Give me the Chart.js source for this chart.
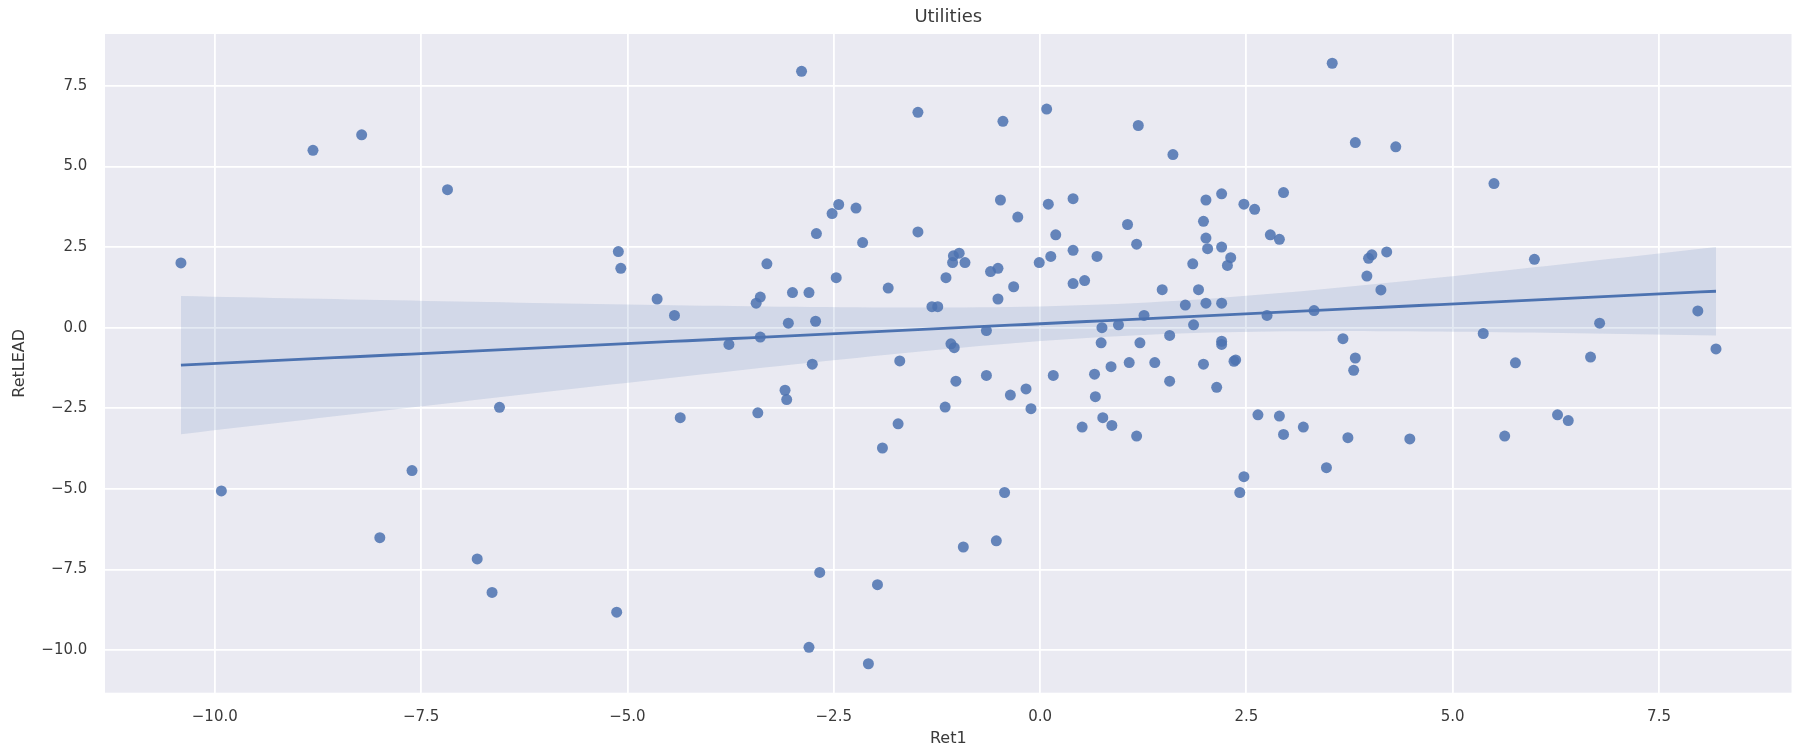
<!DOCTYPE html>
<html>
<head>
<meta charset="utf-8">
<title>Utilities</title>
<script src="https://cdn.jsdelivr.net/npm/chart.js@4/dist/chart.umd.min.js"></script>
<style>
  html, body { margin: 0; padding: 0; background: #ffffff; }
  #wrap { width: 1797px; height: 752px; }
</style>
</head>
<body>
<div id="wrap"><canvas id="chart" width="1797" height="752"></canvas></div>
<script>
// Daily return of the sector (Ret1) against the next-period return (RetLEAD)
const ret1 = [
  -10.41, -8.81, -8.22, -7.18, -2.89, -2.44, -2.52, -2.23, -2.71, -2.15,
  -5.11, -5.08, -3.31, -2.47, -1.84, -4.64, -4.43, -3.39, -3.44, -3.00,
  -2.80, -3.05, -2.72, -3.39, -3.77, -2.76, -1.70, 3.54, -1.48, -0.45,
  0.08, 1.19, 1.61, -0.48, 0.10, 0.40, -0.27, -1.48, 0.19, 1.06,
  1.17, 2.01, 2.20, 2.47, 2.60, 2.95, 1.98, 2.01, 2.03, 2.20,
  2.31, 2.27, 2.79, 2.90, 1.85, 1.92, 1.48, 1.76, 2.01, 2.20,
  2.75, 3.32, 1.86, 1.26, 0.95, 0.75, 1.57, 0.74, 1.21, 2.20,
  2.20, 2.37, 2.35, -1.31, -1.24, -1.14, -1.05, -0.98, -1.06, -0.91,
  -0.60, -0.51, -0.32, -0.51, -0.01, 0.13, 0.40, 0.69, 0.40, 0.54,
  -0.65, -1.08, -1.04, 0.86, 1.08, 1.39, 1.98, 0.66, -1.02, -0.65,
  0.16, 1.57, 2.14, -1.15, -1.72, -1.91, -0.36, -0.17, -0.11, 0.67,
  0.51, 0.76, 0.87, 1.17, 2.64, 2.90, 2.95, 3.19, 3.47, 2.47,
  2.42, -0.43, -0.93, -0.53, -6.55, -4.36, -3.42, -3.09, -3.07, -6.82,
  -6.64, -5.13, -2.67, -1.97, -2.80, -2.08, -9.92, -7.61, -8.00, 3.82,
  4.31, 5.50, 4.02, 3.98, 4.20, 3.96, 4.13, 5.99, 7.97, 6.78,
  5.37, 8.19, 3.67, 3.82, 3.80, 5.76, 6.67, 3.73, 4.48, 5.63,
  6.27, 6.40
];
const retLead = [
  2.01, 5.50, 5.98, 4.28, 7.95, 3.82, 3.54, 3.71, 2.92, 2.64,
  2.36, 1.84, 1.98, 1.55, 1.23, 0.89, 0.38, 0.95, 0.76, 1.09,
  1.09, 0.14, 0.20, -0.29, -0.52, -1.13, -1.03, 8.20, 6.68, 6.40,
  6.78, 6.27, 5.37, 3.96, 3.83, 4.00, 3.43, 2.97, 2.88, 3.20,
  2.59, 3.96, 4.15, 3.83, 3.67, 4.19, 3.30, 2.78, 2.45, 2.50,
  2.17, 1.93, 2.88, 2.74, 1.98, 1.18, 1.18, 0.70, 0.76, 0.76,
  0.38, 0.53, 0.09, 0.38, 0.09, 0.00, -0.24, -0.47, -0.47, -0.42,
  -0.52, -1.00, -1.04, 0.65, 0.65, 1.55, 2.23, 2.31, 2.02, 2.02,
  1.74, 1.84, 1.27, 0.89, 2.02, 2.21, 2.40, 2.21, 1.37, 1.46,
  -0.09, -0.50, -0.62, -1.21, -1.08, -1.08, -1.13, -1.44, -1.66, -1.48,
  -1.48, -1.66, -1.85, -2.46, -2.98, -3.73, -2.09, -1.90, -2.51, -2.14,
  -3.08, -2.79, -3.03, -3.36, -2.70, -2.74, -3.31, -3.08, -4.34, -4.62,
  -5.11, -5.11, -6.80, -6.61, -2.47, -2.79, -2.64, -1.94, -2.23, -7.17,
  -8.21, -8.82, -7.59, -7.97, -9.91, -10.42, -5.06, -4.43, -6.51, 5.74,
  5.61, 4.47, 2.26, 2.15, 2.35, 1.60, 1.17, 2.12, 0.52, 0.14,
  -0.18, -0.66, -0.34, -0.94, -1.32, -1.09, -0.91, -3.41, -3.45, -3.36,
  -2.70, -2.88
];

// Axis tick values and view limits
const xTicks = [-10, -7.5, -5, -2.5, 0, 2.5, 5, 7.5];
const yTicks = [-10, -7.5, -5, -2.5, 0, 2.5, 5, 7.5];
const xLimits = [-11.33, 9.105];
const yLimits = [-11.318, 9.107];

const chartTitle = 'Utilities';
const xTitle = 'Ret1';
const yTitle = 'RetLEAD';

// Least squares fit; the 95% band uses a heteroscedasticity-robust
// (sandwich) variance of the fitted mean, close to a pairs bootstrap.
function fitLine(xs, ys) {
  const n = xs.length;
  const xbar = xs.reduce((a, b) => a + b, 0) / n;
  const ybar = ys.reduce((a, b) => a + b, 0) / n;
  let sxx = 0, sxy = 0;
  for (let i = 0; i < n; i++) {
    sxx += (xs[i] - xbar) ** 2;
    sxy += (xs[i] - xbar) * (ys[i] - ybar);
  }
  const slope = sxy / sxx;
  const intercept = ybar - slope * xbar;
  const resid = xs.map((x, i) => ys[i] - intercept - slope * x);
  const z = 1.96;
  const lo = Math.min(...xs), hi = Math.max(...xs);
  const line = [], upper = [], lower = [];
  const steps = 100;
  for (let k = 0; k <= steps; k++) {
    const x = lo + (hi - lo) * k / steps;
    const yhat = intercept + slope * x;
    let v = 0;
    for (let i = 0; i < n; i++) {
      const w = 1 / n + (x - xbar) * (xs[i] - xbar) / sxx;
      v += w * w * resid[i] * resid[i];
    }
    const half = z * Math.sqrt(v * n / (n - 2));
    line.push({ x, y: yhat });
    upper.push({ x, y: yhat + half });
    lower.push({ x, y: yhat - half });
  }
  return { line, upper, lower };
}

const fit = fitLine(ret1, retLead);
const points = ret1.map((x, i) => ({ x, y: retLead[i] }));

const fmt = v => (v < 0 ? '\u2212' : '') + Math.abs(v).toFixed(1);
const FONT = "'DejaVu Sans', sans-serif";
const TEXT = '#3a3a3a';

// Paint the plot area background
const plotBackground = {
  id: 'plotBackground',
  beforeDraw(chart) {
    const { ctx, chartArea: a } = chart;
    ctx.save();
    ctx.fillStyle = '#EAEAF2';
    ctx.fillRect(a.left, a.top, a.right - a.left, a.bottom - a.top);
    ctx.restore();
  }
};

new Chart(document.getElementById('chart'), {
  type: 'scatter',
  data: {
    datasets: [
      {
        label: 'observations',
        data: points,
        pointRadius: 5.5,
        pointHoverRadius: 5.5,
        pointBorderWidth: 0,
        pointBackgroundColor: 'rgba(76,114,176,0.85)',
        borderColor: 'rgba(0,0,0,0)',
        order: 3
      },
      {
        label: 'ci upper',
        type: 'line',
        data: fit.upper,
        showLine: true,
        pointRadius: 0,
        borderWidth: 0,
        borderColor: 'rgba(0,0,0,0)',
        fill: false,
        order: 2
      },
      {
        label: 'ci lower',
        type: 'line',
        data: fit.lower,
        showLine: true,
        pointRadius: 0,
        borderWidth: 0,
        borderColor: 'rgba(0,0,0,0)',
        backgroundColor: 'rgba(76,114,176,0.15)',
        fill: '-1',
        order: 2
      },
      {
        label: 'fit',
        type: 'line',
        data: fit.line,
        showLine: true,
        pointRadius: 0,
        borderWidth: 2.8,
        borderColor: '#4C72B0',
        fill: false,
        order: 1
      }
    ]
  },
  options: {
    responsive: false,
    animation: false,
    devicePixelRatio: 1,
    layout: { padding: { left: 0, right: 2, top: 0, bottom: 0 } },
    plugins: {
      legend: { display: false },
      tooltip: { enabled: false },
      title: {
        display: true,
        text: chartTitle,
        fullSize: false,
        color: TEXT,
        font: { family: FONT, size: 18, weight: 'normal', lineHeight: 1.2 },
        padding: { top: 7, bottom: 5.4 }
      }
    },
    scales: {
      x: {
        type: 'linear',
        min: xLimits[0],
        max: xLimits[1],
        afterBuildTicks: s => { s.ticks = xTicks.map(v => ({ value: v })); },
        afterFit: s => { s.height = 59.3; },
        ticks: {
          callback: v => fmt(v),
          color: TEXT,
          padding: 15,
          maxRotation: 0,
          font: { family: FONT, size: 15, lineHeight: 1.2 }
        },
        grid: { color: '#ffffff', lineWidth: 1.8, drawTicks: false },
        border: { display: false },
        title: {
          display: true,
          text: xTitle,
          color: TEXT,
          font: { family: FONT, size: 16, lineHeight: 1.2 },
          padding: { top: 0, bottom: 3.4 }
        }
      },
      y: {
        type: 'linear',
        min: yLimits[0],
        max: yLimits[1],
        afterBuildTicks: s => { s.ticks = yTicks.map(v => ({ value: v })); },
        afterFit: s => { s.width = 105; },
        ticks: {
          callback: v => fmt(v),
          color: TEXT,
          padding: 17.7,
          font: { family: FONT, size: 15, lineHeight: 1.2 }
        },
        grid: { color: '#ffffff', lineWidth: 1.8, drawTicks: false },
        border: { display: false },
        title: {
          display: true,
          text: yTitle,
          color: TEXT,
          font: { family: FONT, size: 16, lineHeight: 1.2 },
          padding: { top: 10.4, bottom: 0 }
        }
      }
    }
  },
  plugins: [plotBackground]
});
</script>
</body>
</html>
